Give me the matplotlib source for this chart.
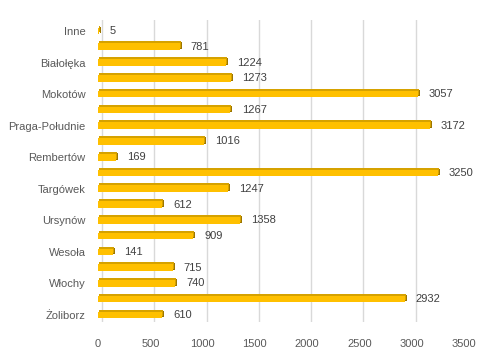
import matplotlib
matplotlib.use("Agg")
import matplotlib.pyplot as plt
from matplotlib.transforms import ScaledTranslation
import numpy as np

districts = ["Inne", "Bemowo", "Białołęka", "Bielany", "Mokotów", "Ochota",
             "Praga-Południe", "Praga-Północ", "Rembertów", "Śródmieście",
             "Targówek", "Ursus", "Ursynów", "Wawer", "Wesoła", "Wilanów",
             "Włochy", "Wola", "Żoliborz"]
counts = [5, 781, 1224, 1273, 3057, 1267, 3172, 1016, 169, 3250,
          1247, 612, 1358, 909, 141, 715, 740, 2932, 610]
xticks = [0, 500, 1000, 1500, 2000, 2500, 3000, 3500]

plt.rcParams['font.family'] = ['Liberation Sans', 'DejaVu Sans']

W, H = 498, 360
fig = plt.figure(figsize=(W / 100, H / 100), dpi=100)
ax = fig.add_axes([98 / W, 1 - 322 / H, (464 - 98) / W, (322 - 20) / H])

y = np.arange(len(districts))
px = 1 / 100
# fake 3d: end face shifted right, top face shifted up, then the front face
side = ScaledTranslation(2 * px, 1 * px, fig.dpi_scale_trans)
top = ScaledTranslation(1 * px, 2 * px, fig.dpi_scale_trans)
ax.barh(y, counts, height=0.42, color="#9C7600", transform=ax.transData + side, zorder=2)
ax.barh(y, counts, height=0.42, color="#D6A200", transform=ax.transData + top, zorder=2)
ax.barh(y, counts, height=0.42, color="#FFC000", zorder=3)

for yi, v in zip(y, counts):
    ax.annotate(str(v), (v, yi), xytext=(8, 0), textcoords="offset points",
                va="center", ha="left", fontsize=8, color="#404040", zorder=4)

ax.set_xlim(0, 3500)
ax.set_ylim(18.45, -0.7)
ax.set_xticks(xticks)
ax.set_yticks(y[::2])
ax.set_yticklabels(districts[::2])
ax.tick_params(axis="both", length=0, labelsize=8, labelcolor="#595959")
ax.tick_params(axis="y", pad=9)
ax.tick_params(axis="x", pad=12)

ax.grid(axis="x", color="#D9D9D9", linewidth=1, zorder=0)
ax.set_axisbelow(True)
back = ScaledTranslation(4 * px, 0, fig.dpi_scale_trans)
for gl in ax.get_xgridlines():
    gl.set_transform(gl.get_transform() + back)
for s in ax.spines.values():
    s.set_visible(False)

fig.savefig("out.png", dpi=100)
